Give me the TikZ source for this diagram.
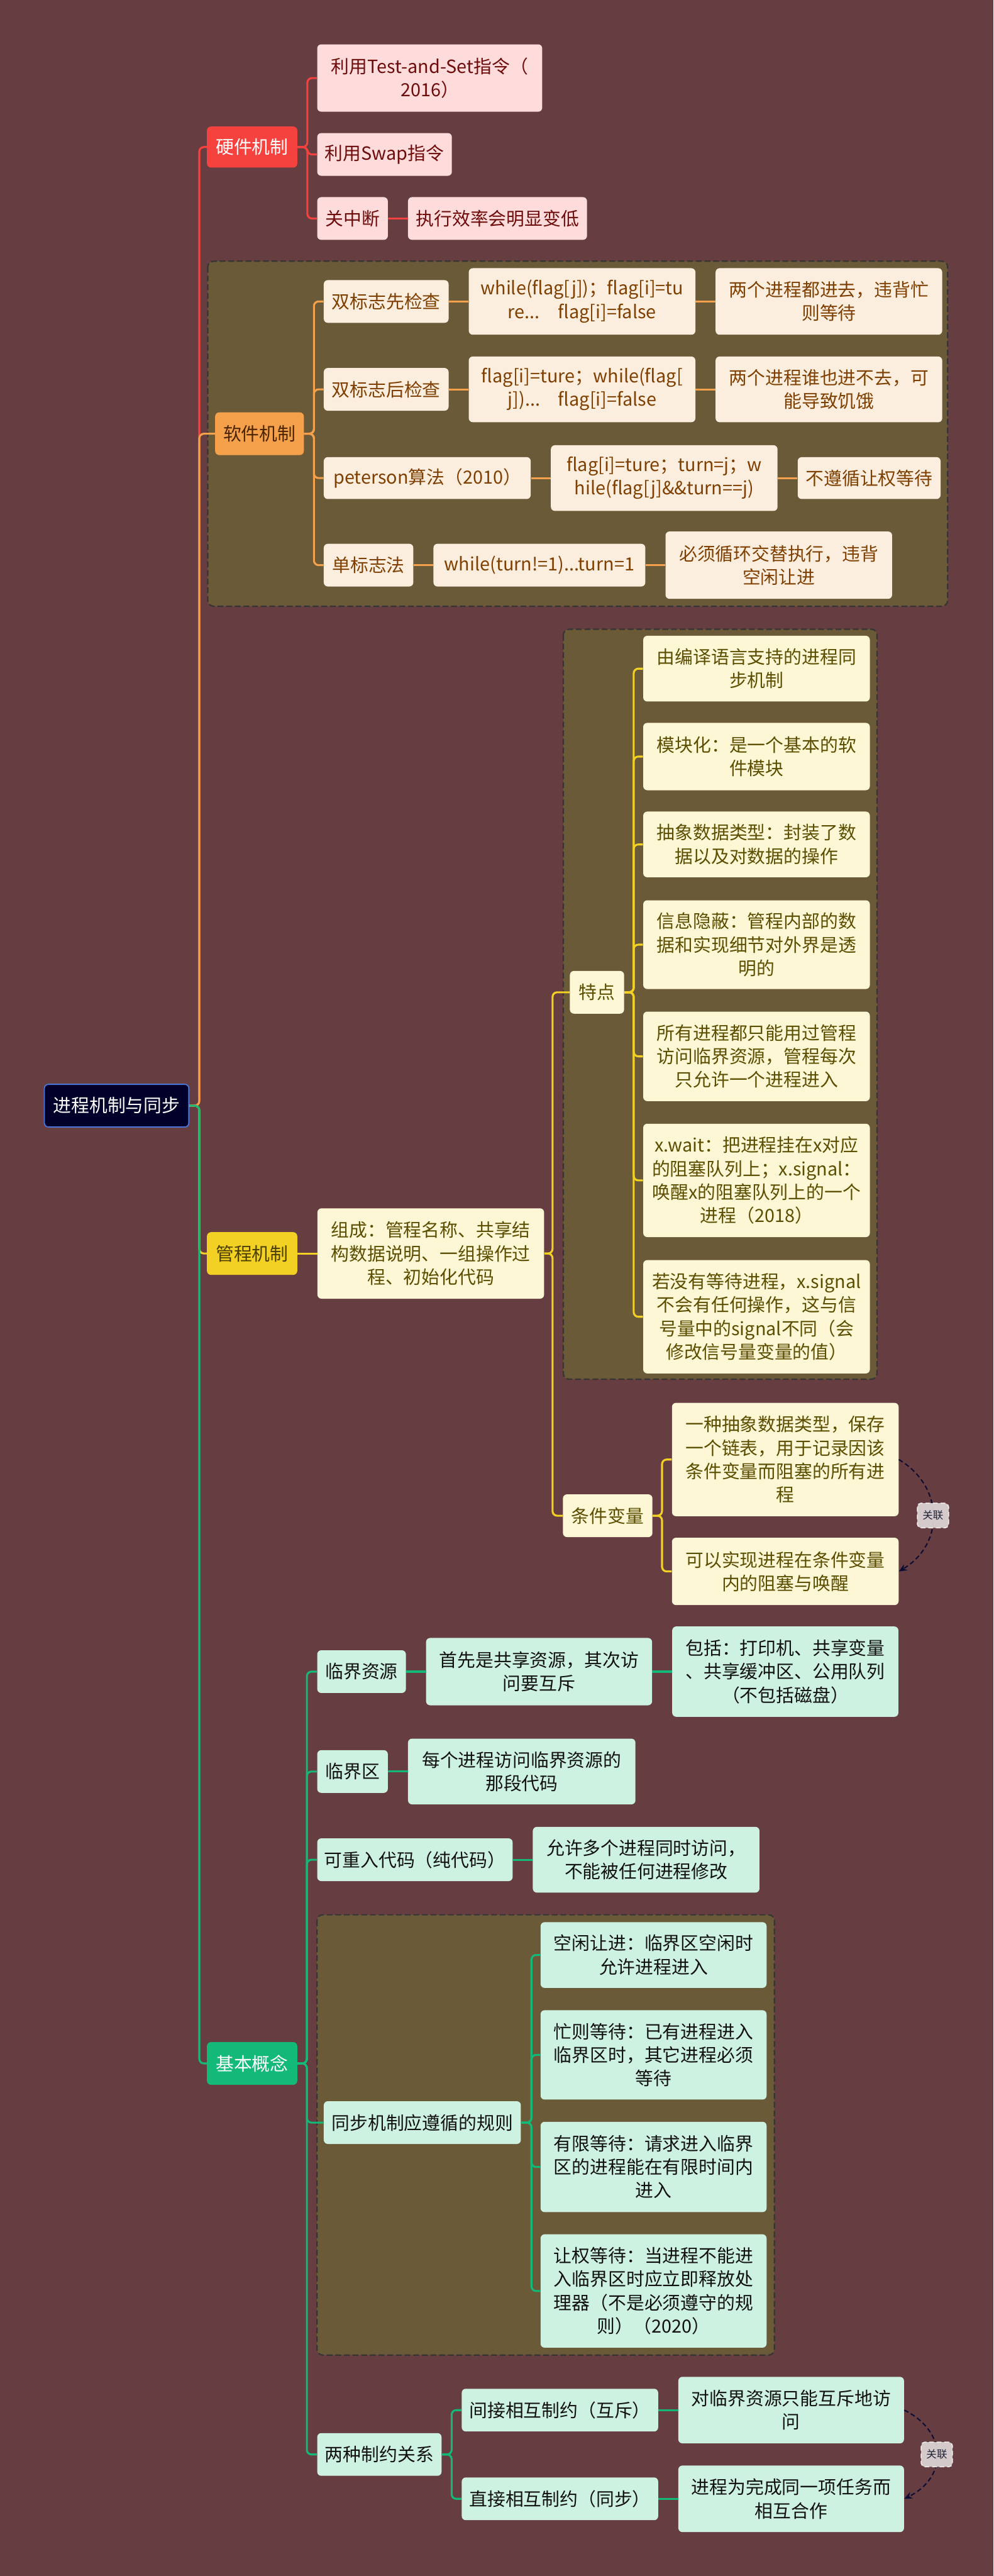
\documentclass[tikz,border=0pt]{standalone}
\usepackage{fontspec}
\setmainfont{Noto Sans CJK SC}
\usepackage{tikz}
\usetikzlibrary{positioning,arrows.meta}
\usepackage{xcolor}
\definecolor{bgmaroon}{HTML}{663D40}
\definecolor{grpfill}{HTML}{6B5A38}
\definecolor{grpborder}{HTML}{353535}
\definecolor{rootfill}{HTML}{00002A}
\definecolor{rootborder}{HTML}{4A74D6}
\definecolor{hwred}{HTML}{F5423E}
\definecolor{hwfill}{HTML}{FDDCDB}
\definecolor{hwtext}{HTML}{6E0B0B}
\definecolor{swor}{HTML}{F5A04B}
\definecolor{swfill}{HTML}{FCEEDF}
\definecolor{swtext}{HTML}{7F3F00}
\definecolor{swheadtext}{HTML}{4A2500}
\definecolor{monyel}{HTML}{F2D124}
\definecolor{monfill}{HTML}{FDF7D6}
\definecolor{montext}{HTML}{5C4E00}
\definecolor{monheadtext}{HTML}{4A3F00}
\definecolor{basicgrn}{HTML}{12B978}
\definecolor{basicfill}{HTML}{CEF2E2}
\definecolor{basictext}{HTML}{111111}
\definecolor{linkfill}{HTML}{E2DADB}
\definecolor{linkdraw}{HTML}{F5F0F0}
\definecolor{linktext}{HTML}{1E2238}
\definecolor{linkcol}{HTML}{0D0D33}

\begin{document}
\begin{tikzpicture}[x=0.05cm, y=-0.05cm, node distance=6mm, >={Stealth[length=7pt,width=6pt]},
    every node/.style={font=\fontsize{15.7pt}{20.3pt}\selectfont, align=center, inner xsep=4pt, inner ysep=3pt},
    wh/.style 2 args={minimum width=#1*0.05cm, minimum height=#2*0.05cm},
    box/.style={rectangle, rounded corners=3.5pt},
    roothead/.style={box, fill=rootfill, draw=rootborder, line width=1pt, text=white},
    hwhead/.style={box, fill=hwred, text=white},
    hwleaf/.style={box, fill=hwfill, text=hwtext},
    swhead/.style={box, fill=swor, text=swheadtext},
    swleaf/.style={box, fill=swfill, text=swtext},
    monhead/.style={box, fill=monyel, text=monheadtext},
    monleaf/.style={box, fill=monfill, text=montext},
    basichead/.style={box, fill=basicgrn, text=white},
    basicleaf/.style={box, fill=basicfill, text=basictext},
    groupbox/.style={fill=grpfill, draw=grpborder, line width=1.2pt, dash pattern=on 5pt off 2.5pt, rounded corners=5pt},
    hwline/.style={draw=hwred, line width=1.7pt, rounded corners=4pt},
    swline/.style={draw=swor, line width=1.7pt, rounded corners=4pt},
    monline/.style={draw=monyel, line width=1.7pt, rounded corners=4pt},
    basicline/.style={draw=basicgrn, line width=1.7pt, rounded corners=4pt},
    linkline/.style={draw=linkcol, line width=1.1pt, dash pattern=on 4pt off 2.5pt},
    linklabel/.style={box, rounded corners=3pt, fill=linkfill, fill opacity=0.9, text opacity=1, draw=linkdraw, line width=0.8pt, text=linktext, font=\fontsize{9pt}{11pt}\selectfont, inner sep=1pt, wh={19}{15}}]
    \useasboundingbox (0,0) rectangle (605,1568);
    \fill[bgmaroon] (0,0) rectangle (605,1568);

    \draw[groupbox] (126.5,159) rectangle (577,369);
    \draw[groupbox] (343,383) rectangle (534,839.5);
    \draw[groupbox] (193,1165.5) rectangle (471.5,1433.5);

    \node[roothead, wh={88}{26}] (root) at (71,673) {进程机制与同步};

    \node[hwhead, wh={55}{25}] (hw) at (153.5,89.5) {硬件机制};
    \node[hwleaf, wh={137}{41}, anchor=west] (tas) at (193,47.5) {利用Test-and-Set指令（\\2016）};
    \node[hwleaf, wh={82}{26}, anchor=west] (swap) at (193,94) {利用Swap指令};
    \node[hwleaf, wh={43}{26}, anchor=west] (cli) at (193,133) {关中断};
    \node[hwleaf, wh={109}{26}, right=of cli] (clieff) {执行效率会明显变低};

    \node[swhead, wh={54}{26}] (sw) at (158,264) {软件机制};
    \node[swleaf, wh={76}{26}, anchor=west] (dfirst) at (197,183.5) {双标志先检查};
    \node[swleaf, wh={138}{40.5}, right=of dfirst] (dfirstcode) {while(flag[j])；flag[i]=tu\\re...　flag[i]=false};
    \node[swleaf, wh={138}{40.5}, right=of dfirstcode] (dfirstres) {两个进程都进去，违背忙\\则等待};
    \node[swleaf, wh={76}{26}, anchor=west] (dafter) at (197,237) {双标志后检查};
    \node[swleaf, wh={138}{40}, right=of dafter] (daftercode) {flag[i]=ture；while(flag[\\j])...　flag[i]=false};
    \node[swleaf, wh={138}{40}, right=of daftercode] (dafterres) {两个进程谁也进不去，可\\能导致饥饿};
    \node[swleaf, wh={126}{25.5}, anchor=west] (peterson) at (197,291) {peterson算法（2010）};
    \node[swleaf, wh={138}{40}, right=of peterson] (petersoncode) {flag[i]=ture；turn=j；w\\hile(flag[j]\&\&turn==j)};
    \node[swleaf, wh={87}{25.5}, right=of petersoncode] (petersonres) {不遵循让权等待};
    \node[swleaf, wh={54.5}{26}, anchor=west] (single) at (197,344) {单标志法};
    \node[swleaf, wh={129}{26}, right=of single] (singlecode) {while(turn!=1)...turn=1};
    \node[swleaf, wh={138}{41}, right=of singlecode] (singleres) {必须循环交替执行，违背\\空闲让进};

    \node[monhead, wh={55}{26}] (mon) at (153.5,763) {管程机制};
    \node[monleaf, wh={138}{55}, right=of mon] (compose) {组成：管程名称、共享结\\构数据说明、一组操作过\\程、初始化代码};
    \node[monleaf, wh={33}{26}] (feat) at (363.5,604) {特点};
    \node[monleaf, wh={138}{40}, anchor=west] (f1) at (391.5,407) {由编译语言支持的进程同\\步机制};
    \node[monleaf, wh={138}{41}, anchor=west] (f2) at (391.5,460.5) {模块化：是一个基本的软\\件模块};
    \node[monleaf, wh={138}{40}, anchor=west] (f3) at (391.5,514) {抽象数据类型：封装了数\\据以及对数据的操作};
    \node[monleaf, wh={138}{54}, anchor=west] (f4) at (391.5,575) {信息隐蔽：管程内部的数\\据和实现细节对外界是透\\明的};
    \node[monleaf, wh={138}{54.5}, anchor=west] (f5) at (391.5,643) {所有进程都只能用过管程\\访问临界资源，管程每次\\只允许一个进程进入};
    \node[monleaf, wh={138}{69}, anchor=west] (f6) at (391.5,718.5) {x.wait：把进程挂在x对应\\的阻塞队列上；x.signal：\\唤醒x的阻塞队列上的一个\\进程（2018）};
    \node[monleaf, wh={138}{69}, anchor=west] (f7) at (391.5,801.5) {若没有等待进程，x.signal\\不会有任何操作，这与信\\号量中的signal不同（会\\修改信号量变量的值）};
    \node[monleaf, wh={54.5}{26}] (cond) at (370,922.6) {条件变量};
    \node[monleaf, wh={138}{69}, anchor=west] (c1) at (409,888.4) {一种抽象数据类型，保存\\一个链表，用于记录因该\\条件变量而阻塞的所有进\\程};
    \node[monleaf, wh={138}{41}, anchor=west] (c2) at (409,956.5) {可以实现进程在条件变量\\内的阻塞与唤醒};

    \node[basichead, wh={55}{26}] (basic) at (153.5,1256) {基本概念};
    \node[basicleaf, wh={54}{26}, anchor=west] (crit) at (193,1017.5) {临界资源};
    \node[basicleaf, wh={137.6}{41}, right=of crit] (critdef) {首先是共享资源，其次访\\问要互斥};
    \node[basicleaf, wh={137.7}{55}, right=of critdef] (critex) {包括：打印机、共享变量\\、共享缓冲区、公用队列\\（不包括磁盘）};
    \node[basicleaf, wh={43}{26}, anchor=west] (csec) at (193,1078.3) {临界区};
    \node[basicleaf, wh={138.5}{40}, right=of csec] (csecdef) {每个进程访问临界资源的\\那段代码};
    \node[basicleaf, wh={119}{26}, anchor=west] (reent) at (193,1132) {可重入代码（纯代码）};
    \node[basicleaf, wh={138}{40}, right=of reent] (reentdef) {允许多个进程同时访问，\\不能被任何进程修改};
    \node[basicleaf, wh={120}{26}, anchor=west] (rules) at (197,1292) {同步机制应遵循的规则};
    \node[basicleaf, wh={137.6}{40}, anchor=west] (r1) at (329,1190) {空闲让进：临界区空闲时\\允许进程进入};
    \node[basicleaf, wh={137.6}{54.4}, anchor=west] (r2) at (329,1250.8) {忙则等待：已有进程进入\\临界区时，其它进程必须\\等待};
    \node[basicleaf, wh={137.6}{55}, anchor=west] (r3) at (329,1319) {有限等待：请求进入临界\\区的进程能在有限时间内\\进入};
    \node[basicleaf, wh={137.6}{69}, anchor=west] (r4) at (329,1394.5) {让权等待：当进程不能进\\入临界区时应立即释放处\\理器（不是必须遵守的规\\则）（2020）};
    \node[basicleaf, wh={75.7}{26}, anchor=west] (two) at (193,1494) {两种制约关系};
    \node[basicleaf, wh={119.6}{26}, anchor=west] (indirect) at (281,1467) {间接相互制约（互斥）};
    \node[basicleaf, wh={137.4}{40.5}, right=of indirect] (indres) {对临界资源只能互斥地访\\问};
    \node[basicleaf, wh={119.6}{26}, anchor=west] (direct) at (281,1521) {直接相互制约（同步）};
    \node[basicleaf, wh={137.4}{40.5}, right=of direct] (dirres) {进程为完成同一项任务而\\相互合作};

    \draw[hwline] (root.east) -- ++(6,0) |- (hw.west);
    \draw[swline] (root.east) -- ++(6,0) |- (sw.west);
    \draw[monline] (root.east) -- ++(6,0) |- (mon.west);
    \draw[basicline] (root.east) -- ++(6,0) |- (basic.west);

    \draw[hwline] (hw.east) -- ++(6,0) |- (tas.west);
    \draw[hwline] (hw.east) -- ++(6,0) |- (swap.west);
    \draw[hwline] (hw.east) -- ++(6,0) |- (cli.west);
    \draw[hwline] (cli) -- (clieff);

    \draw[swline] (sw.east) -- ++(6,0) |- (dfirst.west);
    \draw[swline] (sw.east) -- ++(6,0) |- (dafter.west);
    \draw[swline] (sw.east) -- ++(6,0) |- (peterson.west);
    \draw[swline] (sw.east) -- ++(6,0) |- (single.west);
    \draw[swline] (dfirst) -- (dfirstcode);
    \draw[swline] (dfirstcode) -- (dfirstres);
    \draw[swline] (dafter) -- (daftercode);
    \draw[swline] (daftercode) -- (dafterres);
    \draw[swline] (peterson) -- (petersoncode);
    \draw[swline] (petersoncode) -- (petersonres);
    \draw[swline] (single) -- (singlecode);
    \draw[swline] (singlecode) -- (singleres);

    \draw[monline] (mon) -- (compose);
    \draw[monline] (compose.east) -- ++(5,0) |- (feat.west);
    \draw[monline] (compose.east) -- ++(5,0) |- (cond.west);
    \draw[monline] (feat.east) -- ++(5.7,0) |- (f1.west);
    \draw[monline] (feat.east) -- ++(5.7,0) |- (f2.west);
    \draw[monline] (feat.east) -- ++(5.7,0) |- (f3.west);
    \draw[monline] (feat.east) -- ++(5.7,0) |- (f4.west);
    \draw[monline] (feat.east) -- ++(5.7,0) |- (f5.west);
    \draw[monline] (feat.east) -- ++(5.7,0) |- (f6.west);
    \draw[monline] (feat.east) -- ++(5.7,0) |- (f7.west);
    \draw[monline] (cond.east) -- ++(5.7,0) |- (c1.west);
    \draw[monline] (cond.east) -- ++(5.7,0) |- (c2.west);
    \draw[linkline, ->] (c1.east) .. controls (575,905) and (575,940) .. (c2.east) node[linklabel, pos=0.5] (link1) {关联};

    \draw[basicline] (basic.east) -- ++(5.7,0) |- (crit.west);
    \draw[basicline] (basic.east) -- ++(5.7,0) |- (csec.west);
    \draw[basicline] (basic.east) -- ++(5.7,0) |- (reent.west);
    \draw[basicline] (basic.east) -- ++(5.7,0) |- (rules.west);
    \draw[basicline] (basic.east) -- ++(5.7,0) |- (two.west);
    \draw[basicline] (crit) -- (critdef);
    \draw[basicline] (critdef) -- (critex);
    \draw[basicline] (csec) -- (csecdef);
    \draw[basicline] (reent) -- (reentdef);
    \draw[basicline] (rules.east) -- ++(6.3,0) |- (r1.west);
    \draw[basicline] (rules.east) -- ++(6.3,0) |- (r2.west);
    \draw[basicline] (rules.east) -- ++(6.3,0) |- (r3.west);
    \draw[basicline] (rules.east) -- ++(6.3,0) |- (r4.west);
    \draw[basicline] (two.east) -- ++(6,0) |- (indirect.west);
    \draw[basicline] (two.east) -- ++(6,0) |- (direct.west);
    \draw[basicline] (indirect) -- (indres);
    \draw[basicline] (direct) -- (dirres);
    \draw[linkline, ->] (indres.east) .. controls (577,1480) and (577,1508) .. (dirres.east) node[linklabel, pos=0.5] (link2) {关联};
\end{tikzpicture}
\end{document}
